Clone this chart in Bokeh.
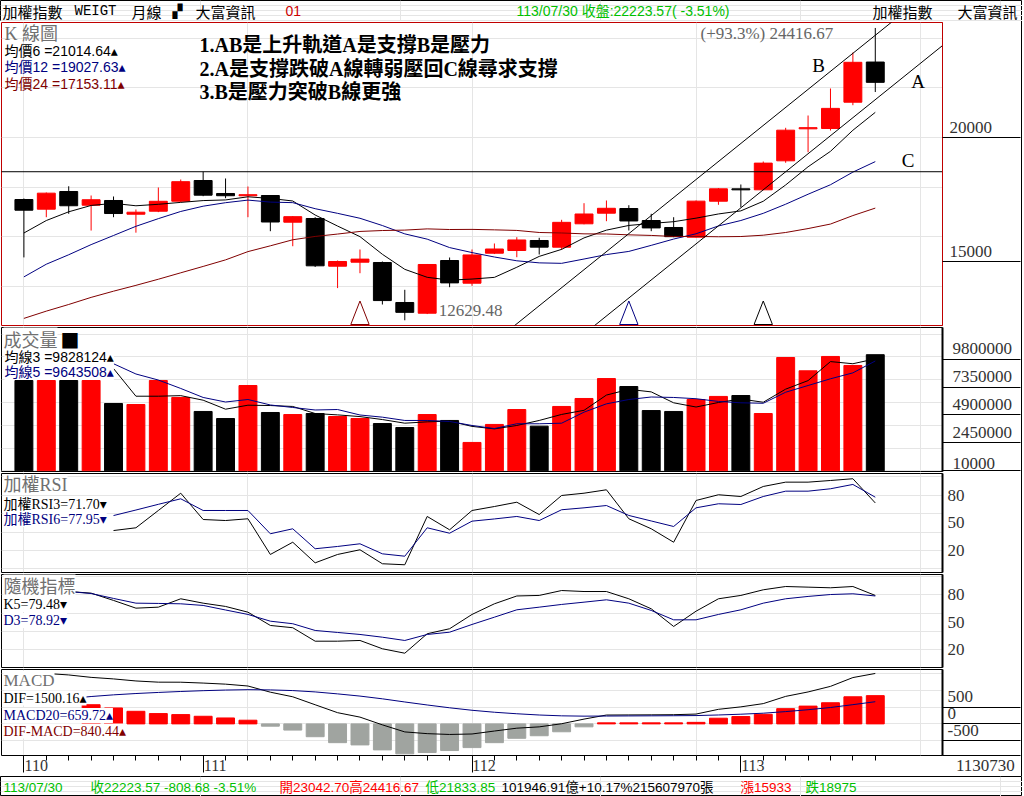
import numpy as np
from bokeh.plotting import figure
from bokeh.layouts import column
from bokeh.models import Range1d, LinearAxis, FixedTicker, Label
from bokeh.embed import file_html
from bokeh.resources import INLINE

nan = float("nan")

# ---------------- data ----------------
months = ["110/05", "110/06", "110/07", "110/08", "110/09", "110/10", "110/11", "110/12",
          "111/01", "111/02", "111/03", "111/04", "111/05", "111/06", "111/07", "111/08",
          "111/09", "111/10", "111/11", "111/12", "112/01", "112/02", "112/03", "112/04",
          "112/05", "112/06", "112/07", "112/08", "112/09", "112/10", "112/11", "112/12",
          "113/01", "113/02", "113/03", "113/04", "113/05", "113/06", "113/07"]

open_ = [17500, 17109, 17823, 17270, 17460, 16907, 17028, 17431, 18266, 17742, 17650, 17661,
         16585, 16734, 14811, 14972, 14960, 13347, 12915, 15040, 14125, 15335, 15444, 15847,
         15577, 16520, 16948, 17137, 16653, 16371, 15980, 17431, 17930, 17891, 19060, 20350,
         20363, 21423, 23042.70]
high_ = [17540, 17782, 18034, 17661, 17621, 17097, 17984, 18306, 18619.61, 18347, 18024, 17680,
         16830, 16786, 15040, 15484, 15000, 13859, 14900, 15161, 15484, 15726, 15980, 15956,
         16681, 17351, 17460, 17270, 16923, 16786, 17460, 17960, 18105, 19032, 20391, 20887,
         21976, 23427, 24416.67]
low_ = [15165, 16786, 16923, 16248, 16786, 16162, 16990, 17400, 17633, 17552, 16786, 16222,
        15616, 14780, 13928, 14528, 13266, 12629.48, 12880, 13964, 14020, 15300, 15173, 15282,
        15472, 16500, 16625, 16250, 16222, 15980, 15970, 17286, 17190, 17880, 18980, 19407,
        20282, 21302, 21833.85]
close_ = [17068.43, 17755.46, 17247.41, 17490.29, 16934.77, 16987.41, 17427.76, 18218.84,
          17674.40, 17652.18, 17693.47, 16592.18, 16807.77, 14825.73, 15000.07, 15095.85,
          13424.92, 12949.75, 14879.55, 14137.69, 15265.20, 15503.79, 15868.06, 15579.18,
          16578.96, 16915.54, 17145.43, 16634.51, 16353.74, 16001.27, 17433.85, 17930.81,
          17889.04, 18966.92, 20294.90, 20396.44, 21174.22, 23032.29, 22223.57]
ma6 = [16149, 16652, 17004, 17260, 17344, 17247, 17307, 17384, 17456, 17483, 17609, 17543,
       17440, 16874, 16429, 16003, 15291, 14684, 14363, 14248, 14292, 14360, 14768, 15206,
       15489, 15952, 16265, 16454, 16535, 16605, 16748, 16917, 17041, 17429, 18086, 18819,
       19442, 20292, 21014.64]
ma12 = [14379, 14891, 15272, 15681, 16049, 16419, 16728, 17018, 17230, 17371, 17476, 17395,
        17373, 17129, 16942, 16743, 16450, 16114, 15901, 15561, 15360, 15181, 15029, 14945,
        14926, 15100, 15279, 15407, 15651, 15905, 16118, 16434, 16653, 16942, 17310, 17712,
        18095, 18604, 19027.63]
ma24 = [12706, 12999, 13267, 13553, 13803, 14038, 14285, 14544, 14801, 15066, 15399, 15632,
        15876, 16010, 16107, 16212, 16249, 16266, 16315, 16290, 16295, 16276, 16253, 16170,
        16150, 16115, 16110, 16075, 16051, 16009, 16010, 15998, 16007, 16061, 16170, 16328,
        16510, 16852, 17153.11]

volume = [7930000, 7930000, 7930000, 7930000, 5910000, 5820000, 7930000, 6440000, 5210000,
          4590000, 7490000, 5120000, 4940000, 5030000, 4770000, 4590000, 4150000, 3800000,
          4940000, 4420000, 2490000, 4070000, 5380000, 3920000, 5650000, 6350000, 8100000,
          7400000, 5290000, 5210000, 6260000, 6530000, 6610000, 5030000, 9950000, 8780000,
          10040000, 9250000, 10194691]
vol_ma3 = [nan, nan, nan, nan, 8980000, 6550000, 6550000, 6600000, 6200000, 5410000, 5760000,
           5730000, 5650000, 5030000, 4910000, 4760000, 4500000, 4180000, 4300000, 4360000,
           3900000, 3680000, 3980000, 4420000, 4950000, 5310000, 6650000, 7150000, 6930000,
           5970000, 5600000, 6000000, 6300000, 6020000, 7170000, 7920000, 9590000, 9400000,
           9828124]
vol_ma5 = [nan, nan, nan, nan, 9400000, 8500000, 7970000, 7230000, 6440000, 6040000, 6260000,
           5780000, 5560000, 5340000, 5380000, 4900000, 4710000, 4420000, 4420000, 4330000,
           3980000, 3710000, 4130000, 4130000, 4180000, 5150000, 5880000, 6260000, 6480000,
           6440000, 6330000, 6090000, 5970000, 5930000, 6900000, 7490000, 8080000, 8600000,
           9643508]

rsi3 = [nan, nan, nan, nan, 41.7, 44.7, 63.5, 82.3, 53.7, 52.6, 54.5, 15.7, 29.0, 6.6, 15.7,
        20.8, 5.6, 4.5, 57.0, 42.5, 63.5, 67.8, 72.5, 59.1, 79.8, 82.3, 86.0, 54.5, 43.6, 29.0,
        74.4, 80.6, 78.7, 89.6, 94.3, 94.3, 96.1, 98.0, 71.70]
rsi6 = [nan, nan, nan, nan, 58.0, 64.0, 70.2, 76.2, 63.5, 63.5, 63.5, 38.2, 43.6, 21.9, 24.4,
        27.3, 16.4, 13.8, 44.7, 38.8, 51.9, 54.3, 57.0, 52.6, 64.3, 66.4, 68.9, 58.1, 52.1, 46.1,
        66.4, 70.8, 70.0, 78.7, 84.5, 84.5, 87.1, 91.8, 77.95]
k5 = [nan, nan, 83.8, 82.0, 74.0, 65.5, 66.6, 75.8, 71.0, 67.4, 61.1, 46.5, 44.0, 29.2, 29.2,
      30.0, 20.9, 16.0, 37.4, 42.9, 58.6, 70.3, 78.9, 79.5, 84.9, 83.8, 83.8, 75.8, 64.8, 45.4,
      62.2, 75.8, 79.5, 85.7, 89.3, 88.6, 87.9, 89.3, 79.48]
d3 = [nan, nan, 83.8, 81.6, 76.2, 71.0, 70.7, 70.3, 68.5, 63.5, 58.6, 51.2, 48.4, 41.0, 38.8,
      36.6, 33.6, 30.0, 36.6, 39.1, 47.6, 55.6, 63.7, 66.6, 69.6, 72.1, 74.7, 71.0, 63.0, 52.7,
      52.7, 58.6, 63.7, 71.0, 75.8, 78.4, 80.5, 81.3, 78.92]

dif = [nan, 1500, 1456, 1384, 1338, 1277, 1241, 1240, 1214, 1182, 1127, 943, 806, 569, 333,
       201, -29, -239, -291, -315, -301, -213, -128, -89, 4, 142, 263, 266, 269, 273, 292, 433,
       506, 603, 818, 950, 1116, 1378, 1500.16]
macd = [nan, nan, 754, 814, 863.7, 903.0, 935.1, 964.1, 987.8, 1006.3, 1017.7, 1010.6, 991.2,
        951.1, 892.4, 826.7, 745.4, 651.8, 562.2, 478.8, 404.7, 346.0, 301.0, 263.9, 239.2,
        230.0, 233.1, 236.3, 239.4, 242.6, 247.3, 264.9, 287.8, 317.7, 365.3, 420.9, 486.9,
        571.5, 659.72]
osc = [nan, nan, nan, 570, 474, 374, 306, 276, 226, 176, 109, -68, -185, -382, -559, -626,
       -774, -891, -853, -794, -706, -559, -429, -353, -235, -88, 30, 30, 30, 30, 45, 168, 218,
       285, 453, 529, 629, 806, 840.44]

k_ticks = [15000, 20000]
vol_ticks = [10000, 2450000, 4900000, 7350000, 9800000]
osc_ticks = [20, 50, 80]
macd_ticks = [-500, 0, 500]
year_idx = [0, 8, 20, 32]
year_labels = ["110", "111", "112", "113"]
last_date_label = "1130730"

# channel lines (bar index, price) and support line
line_A_x = [24.0, 41.0]
line_A_y = [11348, 23707]
line_B_x = [20.0, 41.0]
line_B_y = [11035, 26303]
line_C_level = 18619.61
signal_idx = [15, 27, 33]

# ---------------- style ----------------
SANS = "Liberation Sans, Noto Sans CJK TC, DejaVu Sans, sans-serif"
SERIF = "Liberation Serif, Noto Sans CJK TC, DejaVu Sans, serif"
CJK = "Noto Sans CJK TC, DejaVu Sans, sans-serif"
MONO = "Liberation Mono, monospace"
RED = "#ff0000"
NAVY = "#000080"
DRED = "#800000"
GREEN = "#00c000"
TGRAY = "#707070"
AXT = "#333333"
HGRAY = "#a0a4a0"
KRED = "#c00000"
signal_color = [DRED, NAVY, "black"]

W = 1021          # panel width (frame 1..942 + 79 px axis area)
WHF = 1022        # header / footer width
AXW = 79
X0, X1 = -1.0, 41.0
N = len(close_)
idx = np.arange(N)
EN = "\u2002"
NBSP = "\u00a0"
EDGE = {"box-shadow": "1px 0 0 0 #000000"}

K_LO, K_HI = 12419.4, 24637.1
V_LO, V_HI = -61500, 12583000
R_LO, R_HI = -3.9, 103.7
KD_LO, KD_HI = 0.3, 102.5
M_LO, M_HI = -941, 1618


def panel(h, lo, hi, bottom=1, outline="black"):
    p = figure(width=W, height=h, x_range=Range1d(X0, X1), y_range=Range1d(lo, hi),
               output_backend="svg", toolbar_location=None,
               x_axis_location=None, y_axis_location=None,
               min_border_left=1, min_border_right=AXW, min_border_top=1,
               min_border_bottom=bottom, styles=EDGE)
    p.outline_line_color = outline
    p.outline_line_width = 1
    p.border_fill_color = None
    p.background_fill_color = "white"
    return p


def right_axis(p, ticks, labels, tick_len=78, standoff=-73, tick_color="black",
               line_color="black", line_width=2):
    ax = LinearAxis(ticker=FixedTicker(ticks=ticks, minor_ticks=[]),
                    major_label_overrides={t: s for t, s in zip(ticks, labels)},
                    axis_line_color=line_color, axis_line_width=line_width,
                    major_tick_in=0, major_tick_out=tick_len,
                    major_tick_line_color=tick_color,
                    minor_tick_in=0, minor_tick_out=0,
                    major_label_standoff=standoff,
                    major_label_text_font=SERIF, major_label_text_font_size="17px",
                    major_label_text_color=AXT, major_label_text_line_height=1.1)
    p.add_layout(ax, "right")
    return ax


def note(p, fb, x, y, text, color="black", size="14px", font=SANS, style="normal",
         bg=None, align="left"):
    p.add_layout(Label(x=x - 1, y=fb - y, x_units="screen", y_units="screen", text=text,
                       text_color=color, text_font=font, text_font_size=size,
                       text_font_style=style, text_align=align, text_baseline="middle",
                       background_fill_color=bg))


def strip(h):
    s = figure(width=WHF, height=h, x_range=Range1d(0, WHF), y_range=Range1d(h, 0),
               output_backend="svg", toolbar_location=None, x_axis_location=None,
               y_axis_location=None, min_border=0)
    s.frame_align = False
    s.outline_line_color = "black"
    s.border_fill_color = None
    s.background_fill_color = "white"
    return s


def htext(p, x, y, text, color="black", size="14px", font=CJK):
    p.add_layout(Label(x=x, y=y, text=text, text_color=color, text_font=font,
                       text_font_size=size, text_baseline="middle"))


o = np.array(open_, float)
c = np.array(close_, float)
up = c >= o
ccol = np.where(up, RED, "black").tolist()

# ---------------- header ----------------
hdr = strip(21)
htext(hdr, 2, 10.5, "加權指數", size="15px")
htext(hdr, 74, 10.5, "WEIGT", font=MONO)
htext(hdr, 131, 10.5, "月線", size="15px")
htext(hdr, 172, 10.5, "▞", size="13px", font="DejaVu Sans")
htext(hdr, 195, 10.5, "大富資訊", size="15px")
htext(hdr, 285, 10.5, "01", color="#cc0000", font=SANS)
htext(hdr, 516, 10.5, "113/07/30 收盤:22223.57( -3.51%)", color=GREEN, font=SANS)
htext(hdr, 872, 10.5, "加權指數", size="15px")
htext(hdr, 957, 10.5, "大富資訊", size="15px")

# ---------------- K panel ----------------
pk = panel(305, K_LO, K_HI, outline=KRED)
right_axis(pk, k_ticks, [f"{t}\n " for t in k_ticks], standoff=-71, line_color=KRED,
           line_width=1)

pk.segment(x0=idx, y0=low_, x1=idx, y1=high_, color=ccol, line_width=1)
pk.vbar(x=idx, width=0.8, top=np.maximum(o, c), bottom=np.minimum(o, c),
        fill_color=ccol, line_color=ccol, line_width=1)
pk.line(idx, ma6, color="black", line_width=1)
pk.line(idx, ma12, color=NAVY, line_width=1)
pk.line(idx, ma24, color=DRED, line_width=1)
pk.line(line_A_x, line_A_y, color="black", line_width=1)
pk.line(line_B_x, line_B_y, color="black", line_width=1)
pk.line([X0 - 1, X1 + 1], [line_C_level, line_C_level], color="black", line_width=1)

ppu_k = 303.0 / (K_HI - K_LO)
tri_base = K_LO + 1.0 / ppu_k
tri_apex = tri_base + 23.5 / ppu_k
pk.patches(xs=[[i - 0.41, i + 0.41, i] for i in signal_idx],
           ys=[[tri_base, tri_base, tri_apex] for _ in signal_idx],
           fill_color=None, line_color=signal_color, line_width=1)

imax = int(np.argmax(high_))
imin = int(np.argmin(low_))
pk.add_layout(Label(x=imax, y=high_[imax], x_offset=-42, y_offset=-6,
                    text=f"(+93.3%) {high_[imax]:.2f}", text_font=SERIF, text_font_size="17px",
                    text_color="#666666", text_align="right", text_baseline="middle"))
pk.add_layout(Label(x=imin, y=low_[imin], x_offset=34, y_offset=10,
                    text=f"{low_[imin]:.2f}", text_font=SERIF, text_font_size="17px",
                    text_color="#666666", text_align="left", text_baseline="middle"))
for t, xx, yy in [("B", 35.47, 22903), ("A", 39.91, 22258), ("C", 39.46, 19073)]:
    pk.add_layout(Label(x=xx, y=yy, text=t, text_font=SERIF, text_font_size="19px",
                        text_color="black", text_align="center", text_baseline="middle"))

FK = 325
note(pk, FK, 4, 33.5, "K 線圖", TGRAY, "18px", SERIF)
note(pk, FK, 4, 50, f"均價6 ={ma6[-1]:.2f}▴", "black", "14px", SANS)
note(pk, FK, 4, 66.5, f"均價12 ={ma12[-1]:.2f}▴", NAVY, "14px", SANS)
note(pk, FK, 4, 83, f"均價24 ={ma24[-1]:.2f}▴", DRED, "14px", SANS)
note(pk, FK, 199, 44, "1.AB是上升軌道A是支撐B是壓力", "black", "20px", SERIF, "bold")
note(pk, FK, 199, 68, "2.A是支撐跌破A線轉弱壓回C線尋求支撐", "black", "20px", SERIF, "bold")
note(pk, FK, 199, 91.5, "3.B是壓力突破B線更強", "black", "20px", SERIF, "bold")

# ---------------- Volume panel ----------------
pv = panel(146, V_LO, V_HI)
vol_lab = [f"{t}\n " for t in vol_ticks]
vol_lab[0] = str(vol_ticks[0])
right_axis(pv, vol_ticks, vol_lab, standoff=-68)
pv.vbar(x=idx, width=0.8, top=volume, bottom=0, fill_color=ccol, line_color=ccol)
pv.line(idx, vol_ma3, color="black", line_width=1)
pv.line(idx, vol_ma5, color=NAVY, line_width=1)
FV = 471
note(pv, FV, 3, 338, "成交量", TGRAY, "18px", CJK, bg="white")
note(pv, FV, 60, 338, "■", "black", "20px", "DejaVu Sans")
note(pv, FV, 4, 356.5, f"均線3 ={vol_ma3[-1]:.0f}▴", "black", "14px", SANS, bg="white")
note(pv, FV, 4, 371.5, f"均線5 ={vol_ma5[-1]:.0f}▴", NAVY, "14px", SANS, bg="white")

# ---------------- RSI panel ----------------
pr = panel(101, R_LO, R_HI)
right_axis(pr, osc_ticks, [str(t) for t in osc_ticks], tick_len=0, standoff=5,
           tick_color=None)
pr.line(idx, rsi3, color="black", line_width=1)
pr.line(idx, rsi6, color=NAVY, line_width=1)
FR = 572
note(pr, FR, 3, 484.5, "加權RSI", TGRAY, "18px", SERIF, bg="white")
note(pr, FR, 3, 504, f"加權RSI3={rsi3[-1]:.2f}▾", "black", "14px", SERIF, bg="white")
note(pr, FR, 3, 519, f"加權RSI6={rsi6[-1]:.2f}▾", NAVY, "14px", SERIF, bg="white")

# ---------------- KD panel ----------------
pd_ = panel(95, KD_LO, KD_HI)
right_axis(pd_, osc_ticks, [str(t) for t in osc_ticks], tick_len=0, standoff=5,
           tick_color=None)
pd_.line(idx, k5, color="black", line_width=1)
pd_.line(idx, d3, color=NAVY, line_width=1)
FD = 667
note(pd_, FD, 3, 584.5, "隨機指標", TGRAY, "18px", CJK, bg="white")
note(pd_, FD, 3, 604, f"K5={k5[-1]:.2f}▾", "black", "14px", SERIF, bg="white")
note(pd_, FD, 3, 620, f"D3={d3[-1]:.2f}▾", NAVY, "14px", SERIF, bg="white")

# ---------------- MACD panel (with time axis) ----------------
pm = panel(108, M_LO, M_HI, bottom=20)
m_end = M_LO + 1
right_axis(pm, macd_ticks + [m_end],
           [f"{t}\n " for t in macd_ticks] + ["\n" + EN + last_date_label], standoff=-73)
xax = LinearAxis(ticker=FixedTicker(ticks=year_idx, minor_ticks=list(range(N))),
                 major_label_overrides={i: NBSP * 6 + s for i, s in zip(year_idx, year_labels)},
                 axis_line_color=None, major_tick_in=0, major_tick_out=17,
                 minor_tick_in=0, minor_tick_out=5, major_tick_line_color="black",
                 minor_tick_line_color="black", major_label_standoff=-16,
                 major_label_text_font="Liberation Serif", major_label_text_font_size="16px",
                 major_label_text_color=AXT, major_label_text_line_height=1.0)
pm.add_layout(xax, "below")
osc_a = np.array(osc, float)
ok = ~np.isnan(osc_a)
hx = idx[ok]
hv = osc_a[ok]
hcol = np.where(hv > 0, RED, HGRAY).tolist()
pm.vbar(x=hx, width=0.8, top=hv, bottom=0, fill_color=hcol, line_color=hcol)
pm.line(idx, dif, color="black", line_width=1)
pm.line(idx, macd, color=NAVY, line_width=1)
FM = 756
note(pm, FM, 3, 681, "MACD", TGRAY, "17px", SERIF, bg="white")
note(pm, FM, 3, 698.5, f"DIF={dif[-1]:.2f}▴", "black", "14px", SERIF, bg="white")
note(pm, FM, 3, 716, f"MACD20={macd[-1]:.2f}▴", NAVY, "14px", SERIF, bg="white")
note(pm, FM, 3, 731.5, f"DIF-MACD={osc[-1]:.2f}▴", DRED, "14px", SERIF, bg="white")

# ---------------- footer ----------------
ftr = strip(20)
FS = "13.5px"
htext(ftr, 3, 10.5, "113/07/30", GREEN, FS, SANS)
htext(ftr, 90, 10.5, "收22223.57 -808.68 -3.51%", GREEN, FS, SANS)
htext(ftr, 279, 10.5, "開23042.70高24416.67", RED, FS, SANS)
htext(ftr, 425, 10.5, "低21833.85", GREEN, FS, SANS)
htext(ftr, 501, 10.5, "101946.91億+10.17%215607970張", "black", FS, SANS)
htext(ftr, 740, 10.5, "漲15933", RED, FS, SANS)
htext(ftr, 805, 10.5, "跌18975", GREEN, FS, SANS)

layout = column(hdr, pk, pv, pr, pd_, pm, ftr)
open("out.html", "w").write(file_html(layout, INLINE))
